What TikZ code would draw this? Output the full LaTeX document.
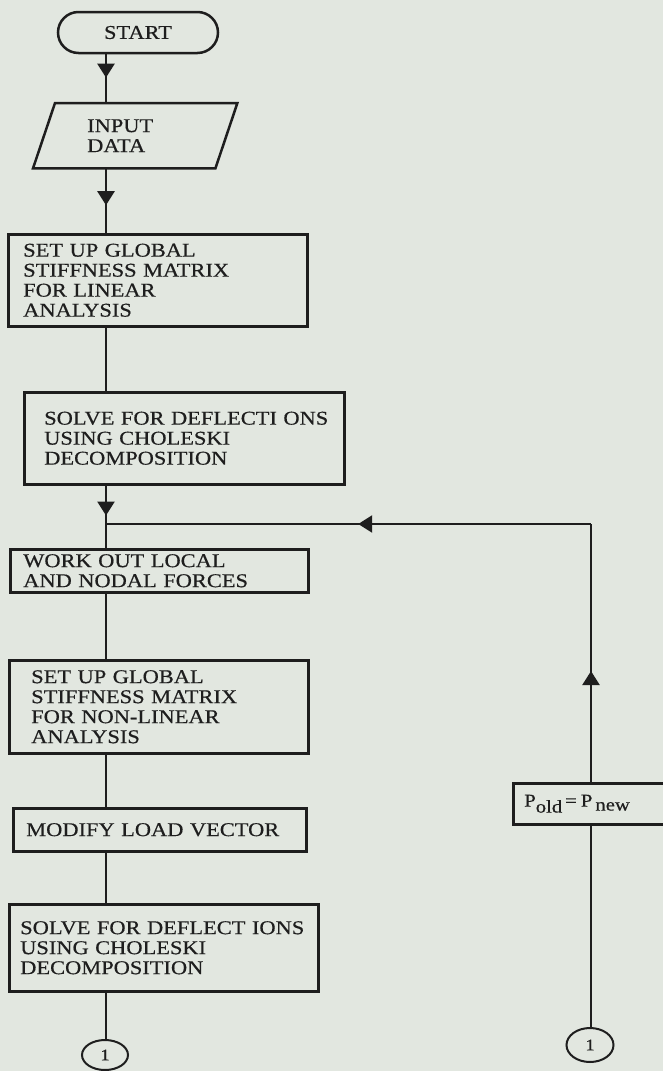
\documentclass[tikz,border=0pt]{standalone}
\usepackage{fontspec}
\setmainfont{Liberation Serif}[FakeStretch=1.15,FakeBold=0.5]
\usetikzlibrary{arrows.meta,decorations.markings,shapes.geometric,shapes.misc,calc}
\definecolor{paper}{RGB}{226,231,224}
\definecolor{ink}{RGB}{30,30,30}
\begin{document}
\begin{tikzpicture}[x=1pt,y=-1pt,
  every node/.style={font=\fontsize{19.5}{20}\selectfont, text=ink},
  procbox/.style={draw=ink, line width=2.5pt, rectangle, anchor=north west, align=left, inner ysep=0pt},
  flow/.style={draw=ink, line width=2.4pt},
  conn/.style={draw=ink, line width=2pt, ellipse, inner sep=0pt, font=\fontsize{16}{16}\selectfont},
  midarrow/.style={postaction={decorate}, decoration={markings, mark=at position #1 with {\arrow{Triangle[width=17pt,length=14pt]}}}},
  subtxt/.style={},
  ]
\fill[paper] (0,0) rectangle (663,1071);
\useasboundingbox (0,0) rectangle (663,1071);

% column coordinates
\coordinate (col) at (106,0);
\coordinate (j) at (106,524);
\coordinate (rc) at (591,524);

% nodes
\node[draw=ink, line width=2.5pt, rounded rectangle, minimum width=160, minimum height=41, inner sep=0pt] (start) at (138,32.5) {START};

\node[anchor=north west, minimum width=204, minimum height=65, text width=96, inner xsep=54, inner ysep=0pt, align=left] (in) at (33,103) {INPUT\\DATA};
\draw[flow, line width=2.5pt, line join=miter] (in.south west) -- ([xshift=-22pt]in.south east) -- (in.north east) -- ([xshift=22pt]in.north west) -- cycle;

\node[procbox, minimum height=92, text width=269, inner xsep=15] (b1) at (7,233) {SET UP GLOBAL\\STIFFNESS MATRIX\\FOR LINEAR\\ANALYSIS};

\node[procbox, minimum height=92, text width=280, inner xsep=20] (b2) at (23,391) {\mbox{SOLVE FOR DEFLECTI ONS}\\USING CHOLESKI\\DECOMPOSITION};

\node[procbox, minimum height=43, text width=272, inner xsep=13] (b3) at (9,548) {WORK OUT LOCAL\\AND NODAL FORCES};

\node[procbox, minimum height=93, text width=255, inner xsep=22] (b4) at (8,659) {SET UP GLOBAL\\STIFFNESS MATRIX\\FOR NON-LINEAR\\ANALYSIS};

\node[procbox, minimum height=43, text width=267, inner xsep=13] (b5) at (12,807) {MODIFY LOAD VECTOR};

\node[procbox, minimum height=87, text width=287, inner xsep=11] (b6) at (8,903) {\mbox{SOLVE FOR DEFLECT IONS}\\USING CHOLESKI\\DECOMPOSITION};

\node[procbox, minimum height=41, text width=148, inner xsep=11, font=\fontsize{18}{18}\selectfont] (pb) at (512,782) {P\raisebox{-6pt}{old}\hspace{3pt}=\hspace{4pt}P\hspace{3pt}\raisebox{-4pt}{new}};

\node[conn, minimum width=46, minimum height=30] (c1) at (105,1055) {1};
\node[conn, minimum width=47, minimum height=34] (c2) at (590,1045) {1};

% connectors
\draw[flow, midarrow=0.48] (start.south -| col) -- (in.north -| col);
\draw[flow, midarrow=0.57] (in.south -| col) -- (b1.north -| col);
\draw[flow] (b1.south -| col) -- (b2.north -| col);
\draw[flow, midarrow=0.78] (b2.south -| col) -- (j);
\draw[flow] (j) -- (b3.north -| col);
\draw[flow] (b3.south -| col) -- (b4.north -| col);
\draw[flow] (b4.south -| col) -- (b5.north -| col);
\draw[flow] (b5.south -| col) -- (b6.north -| col);
\draw[flow] (b6.south -| col) -- (c1.north -| col);
\draw[flow] (c2.north -| rc) -- (pb.south -| rc);
\draw[flow, midarrow=0.43] (pb.north -| rc) -- (rc);
\draw[flow, midarrow=0.48, line join=miter] (rc) -- (j);
\end{tikzpicture}
\end{document}
